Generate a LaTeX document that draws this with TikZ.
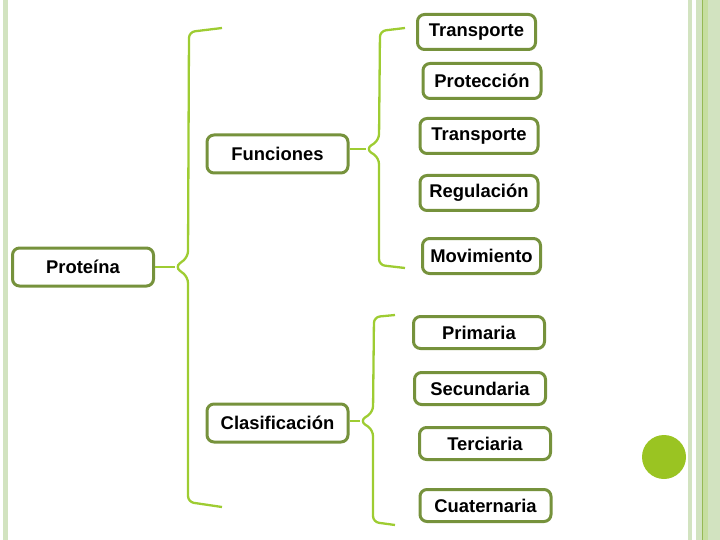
\documentclass[tikz,border=0pt]{standalone}
\usepackage{fontspec}
\setmainfont{Liberation Sans}
\usetikzlibrary{positioning}
\definecolor{boxolive}{RGB}{118,146,60}
\definecolor{bracegreen}{RGB}{158,204,50}
\definecolor{stripegreen}{RGB}{210,227,192}
\definecolor{stripemid}{RGB}{198,222,160}
\definecolor{stripedark}{RGB}{150,185,85}
\definecolor{dotgreen}{RGB}{154,196,34}

\begin{document}
\begin{tikzpicture}[x=1pt, y=-1pt,
  nd/.style={rectangle, rounded corners=7pt, draw=boxolive, line width=3pt,
    fill=white, align=center, font=\fontsize{18.4}{21}\selectfont\bfseries,
    inner sep=2pt},
  mainnd/.style={nd, minimum width=141pt, minimum height=38pt},
  topnd/.style={nd, minimum width=118pt, minimum height=35pt},
  botnd/.style={nd, minimum width=131pt, minimum height=32pt},
  brc/.style={draw=bracegreen, line width=2.3pt, rounded corners=6pt},
  lnk/.style={draw=bracegreen, line width=2.3pt},
]
  \useasboundingbox (0,0) rectangle (720,540);

  % side stripes and dot
  \fill[stripegreen] (3,0) rectangle (8,540);
  \fill[stripegreen] (688,0) rectangle (692,540);
  \fill[stripegreen] (696,0) rectangle (720,540);
  \fill[stripemid] (703,0) rectangle (708,540);
  \fill[stripedark] (701.8,0) rectangle (703,540);
  \fill[dotgreen] (664,457) circle (22pt);

  % main nodes
  \node[mainnd] (pro) at (83,267) {Prote\'ina};
  \node[mainnd] (fun) at (277.5,154) {Funciones};
  \node[mainnd] (cla) at (277.5,423) {Clasificaci\'on};

  % functions
  \node[topnd] (tra1) at (476.5,32) {Transporte};
  \node[topnd] (prot) at (482,81) {Protecci\'on};
  \node[topnd] (tra2) at (479,136) {Transporte};
  \node[topnd] (reg) at (479,193) {Regulaci\'on};
  \node[topnd] (mov) at (481.5,256) {Movimiento};

  % structure levels
  \node[botnd] (pri) at (479,332.5) {Primaria};
  \node[botnd] (sec) at (480,388.5) {Secundaria};
  \node[botnd] (ter) at (485,443.5) {Terciaria};
  \node[botnd] (cua) at (485.5,505.5) {Cuaternaria};

  % braces
  \coordinate (pk) at (175,267);
  \coordinate (fk) at (366,149);
  \coordinate (ck) at (360,421);
  \draw[brc] (222,28) -- (189,32) -- (188,257) -- (pk) -- (188,277) -- (188,502) -- (222,507);
  \draw[brc] (405,28) -- (380,31) -- (379,140) -- (fk) -- (379,158) -- (379,265) -- (405,268);
  \draw[brc] (395,315) -- (374,317) -- (373,412) -- (ck) -- (373,430) -- (373,522) -- (395,525);

  \draw[lnk] (pro.east) -- (pk);
  \draw[lnk] (fun.east |- fk) -- (fk);
  \draw[lnk] (cla.east |- ck) -- (ck);
\end{tikzpicture}
\end{document}
